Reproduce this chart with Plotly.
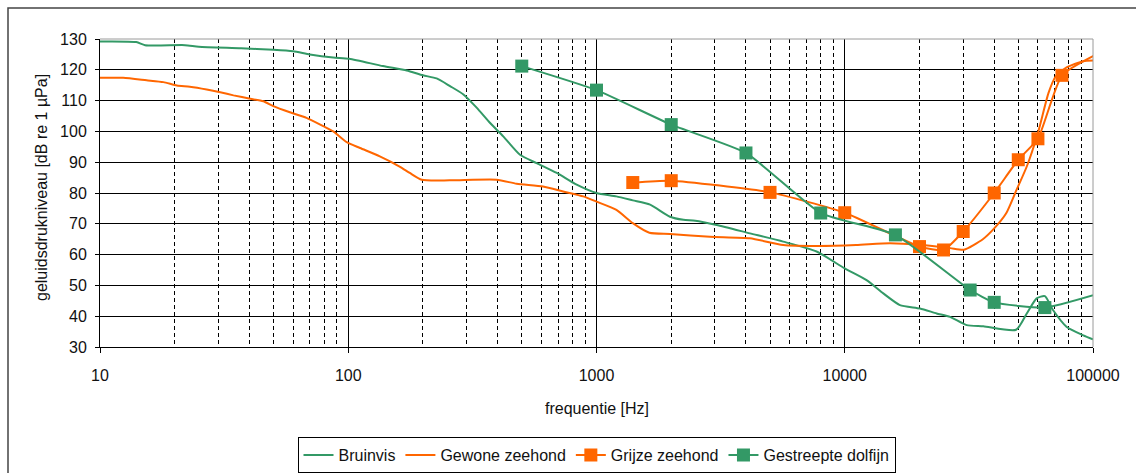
import plotly.graph_objects as go

# ---------------- data ----------------
bruinvis_f = [10, 14, 15.2, 22, 25, 37, 50, 60, 70, 87, 101, 138, 172, 200, 227, 257, 291, 329,
              372, 421, 492, 574, 692, 832, 1000, 1202, 1400, 1644, 1977, 2240, 2500, 3048, 4150,
              5650, 7700, 10000, 12240, 14300, 16680, 20100, 23450, 26560, 31000, 36150, 49000,
              54100, 59300, 64000, 69000, 78400, 91400, 100000]
bruinvis_db = [129.2, 129, 128, 128, 127.5, 127, 126.5, 126, 125, 124, 123.6, 121.2, 119.8, 118.2,
               117.2, 114.7, 112, 107.7, 102.8, 98.4, 92.4, 89.7, 86.5, 82.7, 80, 78.9, 77.6, 76.2,
               72.3, 71.3, 71, 69.6, 66.9, 64.2, 61, 55.5, 51.7, 47.4, 43.6, 42.5, 40.9, 39.8,
               37.1, 36.7, 35.6, 40.9, 45.8, 46.5, 42, 36.5, 33.8, 32.5]

gewone_f = [10, 12.4, 15.4, 18, 20.4, 23, 26.9, 30.5, 34.5, 40.3, 45.5, 49.9, 58.2, 67.9, 79.3, 87,
            98.6, 111.6, 134, 161, 177, 197.7, 257, 396, 477, 609, 734, 885, 1000, 1203, 1400,
            1633, 1977, 2865, 4150, 5650, 7700, 11100, 15200, 20500, 26600, 30200, 36000, 40000,
            44700, 49200, 54100, 60000, 66200, 70800, 78000, 91400, 100000]
gewone_db = [117.4, 117.4, 116.6, 116, 114.9, 114.5, 113.6, 112.7, 111.7, 110.6, 109.8, 108.2, 106.2,
             104.4, 101.7, 100, 96.5, 94.6, 91.9, 88.6, 86.5, 84.3, 84.1, 84.3, 83, 82.1, 80.5, 78.9,
             77.2, 74.5, 70.2, 67.1, 66.7, 65.8, 65.3, 63.1, 62.8, 63.1, 63.7, 63.1, 62.1, 61.6,
             65, 68.5, 73.4, 81, 88.6, 99.5, 112.5, 117.9, 120.7, 122.8, 123]

grijze_f = [1400, 2000, 5000, 10000, 20000, 25000, 30000, 40000, 50000, 60000, 75000, 108000]
grijze_db = [83.4, 84, 80.2, 73.6, 62.6, 61.5, 67.5, 80, 90.8, 97.6, 118.2, 125.8]

dolfijn_f = [500, 1000, 2000, 4000, 8000, 16000, 32000, 40000, 64000, 107000]
dolfijn_db = [121.2, 113.4, 102.2, 93, 73.5, 66.4, 48.5, 44.5, 42.8, 47.5]

x_tickvals = [10, 100, 1000, 10000, 100000]
x_ticktext = ["10", "100", "1000", "10000", "100000"]
y_tickvals = [30, 40, 50, 60, 70, 80, 90, 100, 110, 120, 130]

series_names = ["Bruinvis", "Gewone zeehond", "Grijze zeehond", "Gestreepte dolfijn"]

# ---------------- style ----------------
GREEN = "#339966"
ORANGE = "#FF6600"
FONT = "Liberation Sans, Arial, sans-serif"
TXT = "#111"

W, H = 1136, 473
L, R, T, B = 100, 43, 39, 126
PW, PH = W - L - R, H - T - B


def px_x(px):
    return (px - L) / PW


def px_y(py):
    return (H - B - py) / PH


minor_vals = [m * 10 ** d for d in range(1, 5) for m in range(2, 10)]

fig = go.Figure()
fig.add_trace(go.Scatter(x=bruinvis_f, y=bruinvis_db, name=series_names[0], mode="lines",
                         line=dict(color=GREEN, width=2, shape="spline", smoothing=0.6)))
fig.add_trace(go.Scatter(x=gewone_f, y=gewone_db, name=series_names[1], mode="lines",
                         line=dict(color=ORANGE, width=2, shape="spline", smoothing=0.6)))
fig.add_trace(go.Scatter(x=grijze_f, y=grijze_db, name=series_names[2], mode="lines+markers",
                         line=dict(color=ORANGE, width=2, shape="spline", smoothing=0.5),
                         marker=dict(symbol="square", size=13, color=ORANGE)))
fig.add_trace(go.Scatter(x=dolfijn_f, y=dolfijn_db, name=series_names[3], mode="lines+markers",
                         line=dict(color=GREEN, width=2, shape="spline", smoothing=0.5),
                         marker=dict(symbol="square", size=13, color=GREEN)))

fig.update_layout(
    width=W, height=H,
    margin=dict(l=L, r=R, t=T, b=B, pad=0, autoexpand=False),
    paper_bgcolor="white", plot_bgcolor="white",
    font=dict(family=FONT, size=16, color=TXT),
    showlegend=True,
    legend=dict(orientation="h", x=0.5, xanchor="center", y=px_y(437), yanchor="top",
                bordercolor="black", borderwidth=1, font=dict(size=16, color=TXT),
                itemwidth=30, tracegroupgap=0),
    xaxis=dict(type="log", range=[1, 5], tickmode="array", tickvals=x_tickvals,
               ticktext=x_ticktext, showgrid=True, gridcolor="black", gridwidth=1,
               showline=True, linecolor="black", linewidth=1, ticks="outside", ticklen=5,
               tickcolor="black", zeroline=False, ticklabelstandoff=9,
               tickfont=dict(size=16, color=TXT),
               minor=dict(tickmode="array", tickvals=minor_vals, showgrid=True,
                          gridcolor="black", gridwidth=1, griddash="4px,3px", ticks="")),
    yaxis=dict(range=[30, 130], tickmode="array", tickvals=y_tickvals, showgrid=True,
               gridcolor="black", gridwidth=1, showline=True, linecolor="black", linewidth=1,
               ticks="outside", ticklen=4, tickcolor="black", zeroline=False,
               ticklabelstandoff=5, tickfont=dict(size=16, color=TXT)),
    shapes=[
        dict(type="line", xref="paper", yref="paper", x0=0, x1=1, y0=1, y1=1,
             line=dict(color="#9a9a9a", width=1), layer="above"),
        dict(type="line", xref="paper", yref="paper", x0=1, x1=1, y0=0, y1=1,
             line=dict(color="#9a9a9a", width=1), layer="above"),
        dict(type="rect", xref="paper", yref="paper", x0=px_x(8), x1=px_x(1145),
             y0=px_y(480), y1=px_y(8), line=dict(color="#444", width=1.5), layer="below"),
    ],
    annotations=[
        dict(text="geluidsdrukniveau [dB re 1 µPa]", xref="paper", yref="paper",
             x=px_x(41), y=px_y(188), xanchor="center", yanchor="middle", textangle=-90,
             showarrow=False, font=dict(size=16, color=TXT)),
        dict(text="frequentie [Hz]", xref="paper", yref="paper",
             x=px_x(597), y=px_y(408), xanchor="center", yanchor="middle",
             showarrow=False, font=dict(size=16, color=TXT)),
    ],
)

fig.write_html("out.html")
